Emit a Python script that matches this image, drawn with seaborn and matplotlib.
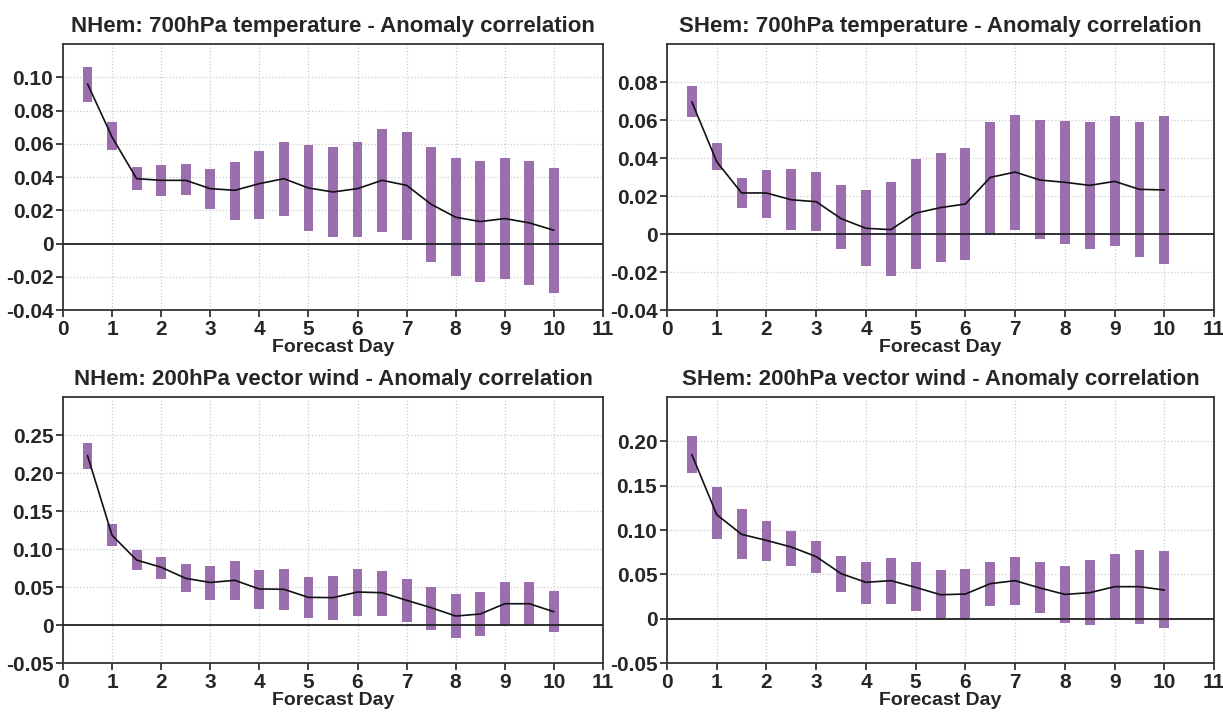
import matplotlib
matplotlib.use("Agg")
import matplotlib.pyplot as plt
import numpy as np
import pandas as pd
import seaborn as sns

sns.set_theme(style="white")
plt.rcParams["font.family"] = ["Liberation Sans Narrow", "Liberation Sans", "DejaVu Sans"]
plt.rcParams["font.weight"] = "bold"

days = [0.5, 1, 1.5, 2, 2.5, 3, 3.5, 4, 4.5, 5, 5.5, 6, 6.5, 7, 7.5, 8, 8.5, 9, 9.5, 10]

# NHem 700hPa temperature
nh_t_mean = [0.096, 0.064, 0.039, 0.038, 0.038, 0.033, 0.032, 0.036, 0.039, 0.0334,
             0.031, 0.033, 0.038, 0.035, 0.0236, 0.0158, 0.0132, 0.015, 0.0124, 0.008]
nh_t_hi = [0.106, 0.073, 0.046, 0.047, 0.048, 0.045, 0.049, 0.0556, 0.061, 0.059,
           0.058, 0.061, 0.069, 0.067, 0.058, 0.0514, 0.0496, 0.0514, 0.0494, 0.0456]
nh_t_lo = [0.085, 0.056, 0.032, 0.0286, 0.029, 0.021, 0.0144, 0.015, 0.0164, 0.0078,
           0.0038, 0.0042, 0.007, 0.0024, -0.0114, -0.0196, -0.023, -0.0214, -0.0248, -0.030]

# SHem 700hPa temperature
sh_t_mean = [0.0695, 0.038, 0.0216, 0.0216, 0.018, 0.017, 0.0081, 0.003, 0.0023, 0.011,
             0.0139, 0.0158, 0.0298, 0.0326, 0.0284, 0.0272, 0.0256, 0.0277, 0.0235, 0.0232]
sh_t_hi = [0.0777, 0.048, 0.0293, 0.0339, 0.0342, 0.0328, 0.0256, 0.023, 0.0272, 0.0395,
           0.0426, 0.0454, 0.0588, 0.0626, 0.0598, 0.0595, 0.0591, 0.062, 0.059, 0.0621]
sh_t_lo = [0.0614, 0.0335, 0.0137, 0.0086, 0.0021, 0.0016, -0.0079, -0.0168, -0.0223, -0.0182,
           -0.0147, -0.0137, -0.0004, 0.0021, -0.0025, -0.0051, -0.0079, -0.0063, -0.0119, -0.0158]

# NHem 200hPa vector wind
nh_w_mean = [0.223, 0.118, 0.0855, 0.076, 0.0614, 0.056, 0.0588, 0.0474, 0.047, 0.0364,
             0.036, 0.0434, 0.0425, 0.0325, 0.0228, 0.0118, 0.0145, 0.028, 0.028, 0.0175]
nh_w_hi = [0.239, 0.1325, 0.0987, 0.09, 0.0798, 0.078, 0.0838, 0.0728, 0.0737, 0.0632,
           0.0645, 0.0737, 0.071, 0.060, 0.0504, 0.0404, 0.043, 0.0561, 0.0561, 0.0447]
nh_w_lo = [0.205, 0.104, 0.0724, 0.0605, 0.043, 0.0325, 0.0333, 0.0215, 0.0197, 0.0088,
           0.007, 0.0123, 0.0123, 0.0035, -0.0066, -0.0171, -0.014, 0.0, 0.0, -0.0096]

# SHem 200hPa vector wind
sh_w_mean = [0.185, 0.1173, 0.0951, 0.0883, 0.0808, 0.070, 0.0508, 0.041, 0.0429, 0.0353,
             0.027, 0.0278, 0.0395, 0.0429, 0.0346, 0.0274, 0.0293, 0.0361, 0.0361, 0.0323]
sh_w_hi = [0.2064, 0.1485, 0.1237, 0.110, 0.0989, 0.088, 0.0711, 0.0643, 0.0688, 0.0635,
           0.0549, 0.056, 0.0643, 0.070, 0.0643, 0.0594, 0.0658, 0.0726, 0.0774, 0.0759]
sh_w_lo = [0.1647, 0.0898, 0.0673, 0.065, 0.0594, 0.0511, 0.0305, 0.0162, 0.0165, 0.0083,
           -0.0008, 0.0, 0.0139, 0.015, 0.0064, -0.0049, -0.0075, -0.0011, -0.006, -0.0109]

panels = [
    ("NHem: 700hPa temperature - Anomaly correlation", nh_t_mean, nh_t_lo, nh_t_hi,
     (-0.04, 0.12), np.arange(-0.04, 0.101, 0.02)),
    ("SHem: 700hPa temperature - Anomaly correlation", sh_t_mean, sh_t_lo, sh_t_hi,
     (-0.04, 0.10), np.arange(-0.04, 0.081, 0.02)),
    ("NHem: 200hPa vector wind - Anomaly correlation", nh_w_mean, nh_w_lo, nh_w_hi,
     (-0.05, 0.30), np.arange(-0.05, 0.251, 0.05)),
    ("SHem: 200hPa vector wind - Anomaly correlation", sh_w_mean, sh_w_lo, sh_w_hi,
     (-0.05, 0.25), np.arange(-0.05, 0.201, 0.05)),
]

positions = [
    [0.0515, 0.5646, 0.4415, 0.3736],
    [0.5454, 0.5646, 0.4473, 0.3736],
    [0.0515, 0.0688, 0.4415, 0.3736],
    [0.5454, 0.0688, 0.4473, 0.3736],
]

bar_color = "#9b6fae"

fig = plt.figure(figsize=(12.23, 7.12), dpi=100)

for pos, (title, mean, lo, hi, ylim, yticks) in zip(positions, panels):
    ax = fig.add_axes(pos)
    df = pd.DataFrame({"day": days, "mean": mean, "lo": lo, "hi": hi})
    ax.bar(df["day"], df["hi"] - df["lo"], bottom=df["lo"], width=0.2,
           color=bar_color, edgecolor="none", zorder=2)
    ax.axhline(0, color="#222222", lw=1.3, zorder=3)
    sns.lineplot(data=df, x="day", y="mean", color="#111111", lw=1.2, ax=ax, zorder=4)
    ax.set_xlim(0, 11)
    ax.set_ylim(*ylim)
    ax.set_xticks(range(0, 12))
    ax.set_yticks(yticks)
    ax.set_yticklabels(["0" if abs(t) < 1e-9 else f"{t:.2f}" for t in yticks])
    ax.grid(True, color="#cccccc", linestyle=":", lw=0.9, zorder=0)
    ax.set_axisbelow(True)
    ax.tick_params(axis="both", direction="out", length=5, width=1.2, color="#222222",
                   labelsize=15, pad=2, left=True, bottom=True)
    for lab in ax.get_xticklabels() + ax.get_yticklabels():
        lab.set_fontweight("bold")
    for sp in ax.spines.values():
        sp.set_color("#333333")
        sp.set_linewidth(1.3)
    ax.set_xlabel("Forecast Day", fontsize=14, fontweight="bold", labelpad=0.5)
    ax.set_ylabel("")
    ax.set_title(title, fontsize=16, fontweight="bold", pad=9)

fig.savefig("out.png", dpi=100)
